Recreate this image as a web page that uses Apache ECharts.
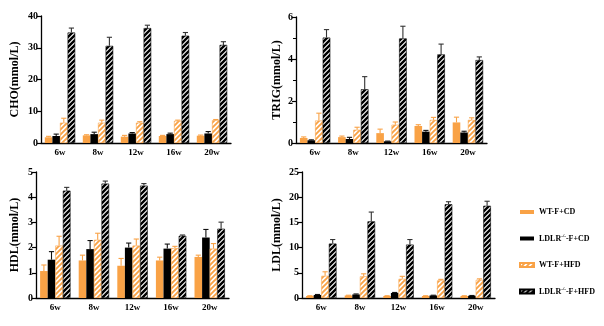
<!DOCTYPE html>
<html>
<head>
<meta charset="utf-8">
<script src="https://cdn.jsdelivr.net/npm/echarts@6/dist/echarts.min.js"></script>
<style>html,body{margin:0;padding:0;background:#fff}#c{width:604px;height:326px}</style>
</head>
<body>
<div id="c"></div>
<script>
// ---- data ----
const categories = ['6w', '8w', '12w', '16w', '20w'];
const seriesNames = ['WT-F+CD', 'LDLR-/--F+CD', 'WT-F+HFD', 'LDLR-/--F+HFD'];

const choWtCD = [1.8, 2.4, 2.0, 2.2, 2.3];
const choWtCDErr = [0.3, 0.2, 0.4, 0.2, 0.2];
const choKoCD = [2.2, 2.8, 3.0, 2.8, 3.0];
const choKoCDErr = [0.6, 0.6, 0.3, 0.3, 0.6];
const choWtHFD = [6.4, 6.4, 6.4, 7.0, 7.2];
const choWtHFDErr = [1.4, 0.8, 0.3, 0.2, 0.2];
const choKoHFD = [34.8, 30.6, 36.2, 33.8, 30.9];
const choKoHFDErr = [1.4, 2.7, 0.9, 1.0, 1.0];

const trigWtCD = [0.24, 0.28, 0.47, 0.81, 0.98];
const trigWtCDErr = [0.05, 0.05, 0.19, 0.06, 0.25];
const trigKoCD = [0.13, 0.19, 0.08, 0.54, 0.50];
const trigKoCDErr = [0.02, 0.08, 0.01, 0.06, 0.06];
const trigWtHFD = [1.07, 0.63, 0.87, 1.10, 1.10];
const trigWtHFDErr = [0.35, 0.12, 0.13, 0.12, 0.10];
const trigKoHFD = [5.02, 2.56, 4.98, 4.22, 3.95];
const trigKoHFDErr = [0.38, 0.60, 0.58, 0.49, 0.15];

const hdlWtCD = [1.07, 1.49, 1.28, 1.49, 1.63];
const hdlWtCDErr = [0.24, 0.21, 0.29, 0.13, 0.07];
const hdlKoCD = [1.52, 1.94, 2.00, 1.96, 2.40];
const hdlKoCDErr = [0.32, 0.34, 0.18, 0.18, 0.32];
const hdlWtHFD = [2.08, 2.31, 2.08, 1.98, 1.96];
const hdlWtHFDErr = [0.37, 0.26, 0.26, 0.07, 0.20];
const hdlKoHFD = [4.26, 4.54, 4.46, 2.47, 2.75];
const hdlKoHFDErr = [0.13, 0.10, 0.08, 0.03, 0.26];

const ldlWtCD = [0.4, 0.5, 0.4, 0.4, 0.4];
const ldlWtCDErr = [0.05, 0.05, 0.05, 0.05, 0.05];
const ldlKoCD = [0.6, 0.7, 1.0, 0.5, 0.45];
const ldlKoCDErr = [0.1, 0.1, 0.1, 0.05, 0.05];
const ldlWtHFD = [4.4, 4.3, 3.8, 3.5, 3.6];
const ldlWtHFDErr = [0.8, 0.5, 0.5, 0.2, 0.2];
const ldlKoHFD = [10.8, 15.2, 10.6, 18.6, 18.3];
const ldlKoHFDErr = [0.8, 1.85, 1.0, 0.5, 0.9];

const yTitles = ['CHO', 'TRIG', 'HDL', 'LDL'];
const yMax = [40, 6, 5, 25];
const yInterval = [10, 2, 1, 5];

const panels = [
  [[choWtCD, choWtCDErr], [choKoCD, choKoCDErr], [choWtHFD, choWtHFDErr], [choKoHFD, choKoHFDErr]],
  [[trigWtCD, trigWtCDErr], [trigKoCD, trigKoCDErr], [trigWtHFD, trigWtHFDErr], [trigKoHFD, trigKoHFDErr]],
  [[hdlWtCD, hdlWtCDErr], [hdlKoCD, hdlKoCDErr], [hdlWtHFD, hdlWtHFDErr], [hdlKoHFD, hdlKoHFDErr]],
  [[ldlWtCD, ldlWtCDErr], [ldlKoCD, ldlKoCDErr], [ldlWtHFD, ldlWtHFDErr], [ldlKoHFD, ldlKoHFDErr]]
];

// ---- styles ----
const ORANGE = '#F9A246';
const FONT = '"Liberation Serif", "Times New Roman", serif';

function makeHatch(color, lw) {
  const s = 5;
  const c = document.createElement('canvas');
  c.width = s; c.height = s;
  const ctx = c.getContext('2d');
  ctx.fillStyle = '#fff';
  ctx.fillRect(0, 0, s, s);
  ctx.strokeStyle = color;
  ctx.lineWidth = lw;
  ctx.beginPath();
  ctx.moveTo(-1, s + 1); ctx.lineTo(s + 1, -1);
  ctx.moveTo(-2, 2); ctx.lineTo(2, -2);
  ctx.moveTo(s - 2, s + 2); ctx.lineTo(s + 2, s - 2);
  ctx.stroke();
  return c;
}

const fills = [
  ORANGE,
  '#000',
  { image: makeHatch(ORANGE, 1.9), repeat: 'repeat' },
  { image: makeHatch('#000', 2.4), repeat: 'repeat' }
];
const borders = [ORANGE, '#000', ORANGE, '#000'];
const errColors = [ORANGE, '#111', ORANGE, '#333'];

const grids = [
  { left: 41, top: 16, width: 190, height: 127 },
  { left: 296, top: 17, width: 191, height: 126 },
  { left: 36, top: 172, width: 193, height: 126 },
  { left: 302, top: 172, width: 193, height: 126 }
];
const nameGaps = [20, 13, 15, 19];

const BW = 7.6;

const xAxes = [], yAxes = [], series = [];
grids.forEach((g, p) => {
  xAxes.push({
    type: 'category', gridIndex: p, data: categories,
    axisLine: { lineStyle: { color: '#000', width: 1.3 } },
    axisTick: { alignWithLabel: true, length: 4, lineStyle: { color: '#000', width: 1.2 } },
    axisLabel: { color: '#000', fontFamily: FONT, fontWeight: 'bold', fontSize: 9, margin: 5 }
  });
  yAxes.push({
    type: 'value', gridIndex: p, min: 0, max: yMax[p], interval: yInterval[p],
    name: '{a|' + yTitles[p] + '}{b|(mmol/L)}',
    nameLocation: 'middle', nameRotate: 90, nameGap: nameGaps[p],
    nameTextStyle: {
      color: '#000', fontFamily: FONT, fontWeight: 'bold',
      rich: {
        a: { fontFamily: FONT, fontWeight: 'bold', fontSize: 12, color: '#000' },
        b: { fontFamily: FONT, fontWeight: 'bold', fontSize: 12, color: '#000' }
      }
    },
    axisLine: { show: true, lineStyle: { color: '#000', width: 1.3 } },
    axisTick: { show: true, length: 4, lineStyle: { color: '#000', width: 1.2 } },
    minorTick: { show: p === 1, splitNumber: 2, length: 3, lineStyle: { color: '#000', width: 1 } },
    splitLine: { show: false },
    axisLabel: { color: '#000', fontFamily: FONT, fontWeight: 'bold', fontSize: 10, margin: 3 }
  });
  panels[p].forEach((pair, k) => {
    const vals = pair[0], errs = pair[1];
    series.push({
      type: 'bar', name: seriesNames[k], xAxisIndex: p, yAxisIndex: p,
      data: vals, barWidth: BW, barGap: '0%',
      itemStyle: { color: fills[k], borderColor: borders[k], borderWidth: k >= 2 ? 0.6 : 0 },
      emphasis: { disabled: true }
    });
    const off = (k - 1.5) * BW;
    series.push({
      type: 'custom', name: seriesNames[k] + ' err', xAxisIndex: p, yAxisIndex: p, z: 5,
      data: vals.map((v, i) => [i, v, errs[i]]),
      encode: { x: 0, y: 1 },
      renderItem: function (params, api) {
        const i = api.value(0), v = api.value(1), e = api.value(2);
        const p0 = api.coord([i, v]);
        const p1 = api.coord([i, v + e]);
        const x = p0[0] + off;
        const c = errColors[k];
        return {
          type: 'group',
          children: [
            { type: 'line', shape: { x1: x, y1: p0[1], x2: x, y2: p1[1] }, style: { stroke: c, lineWidth: 1.1 } },
            { type: 'line', shape: { x1: x - 2.6, y1: p1[1], x2: x + 2.6, y2: p1[1] }, style: { stroke: c, lineWidth: 1.1 } }
          ]
        };
      }
    });
  });
});

const chart = echarts.init(document.getElementById('c'), null, { renderer: 'canvas' });
chart.setOption({
  animation: false,
  backgroundColor: '#fff',
  grid: grids,
  xAxis: xAxes,
  yAxis: yAxes,
  legend: {
    data: seriesNames,
    orient: 'vertical', left: 514, top: 202,
    itemWidth: 14, itemHeight: 4, itemGap: 16.5,
    icon: 'rect',
    formatter: function (n) {
      return n.replace('LDLR-/-', 'LDLR{s|-/-}');
    },
    textStyle: {
      color: '#000', fontFamily: FONT, fontWeight: 'bold', fontSize: 8, lineHeight: 10,
      rich: { s: { fontSize: 5, fontFamily: FONT, color: '#000', verticalAlign: 'top', lineHeight: 10 } }
    }
  },
  series: series
});
</script>
</body>
</html>
